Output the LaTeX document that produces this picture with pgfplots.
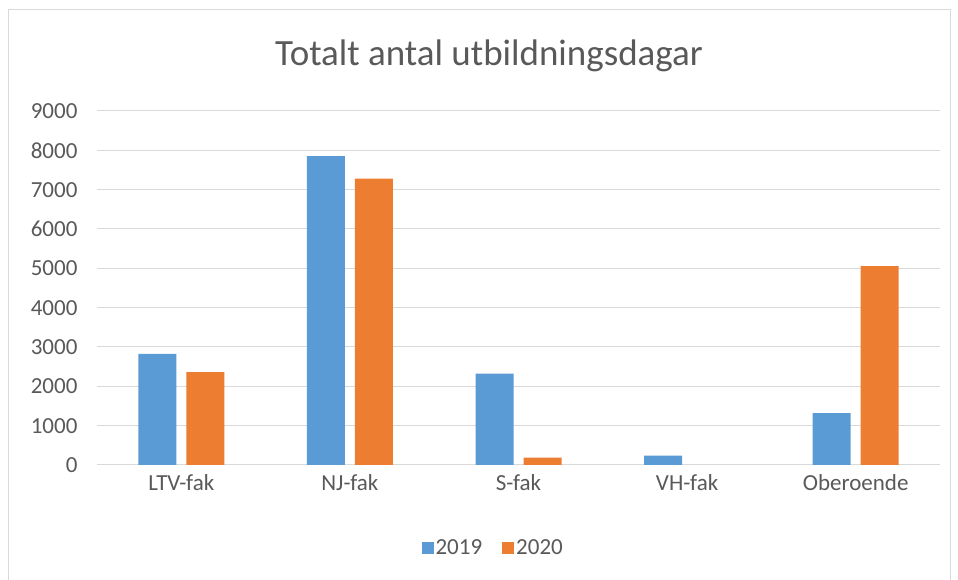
\documentclass[border=0pt]{standalone}
\usepackage{fontspec}
\setmainfont{Carlito}
\usepackage{pgfplots}
\pgfplotsset{compat=1.18}
\definecolor{blue19}{HTML}{5B9BD5}
\definecolor{orange20}{HTML}{ED7D31}
\definecolor{gridgray}{HTML}{D9D9D9}
\definecolor{textgray}{HTML}{595959}
\begin{document}
\begin{tikzpicture}[x=1pt,y=1pt]
\useasboundingbox (0,0) rectangle (958,580);
\draw[gridgray, line width=1pt] (8,-5) rectangle (950,570);
\node[text=textgray, font=\fontsize{37}{44}\selectfont] at (489,524) {Totalt antal utbildningsdagar};
\begin{axis}[
  at={(97pt,115pt)}, anchor=south west,
  scale only axis,
  width=843pt, height=354pt,
  ybar=10pt, bar width=38pt,
  xmin=-0.5, xmax=4.5,
  ymin=0, ymax=9000,
  ytick={0,1000,...,9000},
  xtick={0,1,2,3,4},
  xticklabels={LTV-fak,NJ-fak,S-fak,VH-fak,Oberoende},
  ymajorgrids, grid style={gridgray, line width=1pt},
  axis x line*=bottom, axis y line*=left,
  x axis line style={gridgray, line width=1pt},
  y axis line style={draw=none},
  major tick length=0pt,
  tick label style={text=textgray, font=\fontsize{23}{28}\selectfont},
  yticklabel style={xshift=-16pt},
  xticklabel style={yshift=-6pt},
  /pgf/number format/assume math mode=true,
  /pgf/number format/1000 sep={},
  legend style={at={(0.47,-0.2)}, anchor=north, draw=none, legend columns=2,
    font=\fontsize{23}{28}\selectfont, text=textgray,
    /tikz/every even column/.append style={column sep=18pt}},
  legend image code/.code={\fill[#1] (-4pt,-6pt) rectangle (8pt,6pt);},
]
\addplot[fill=blue19, draw=none] coordinates {(0,2825) (1,7850) (2,2320) (3,240) (4,1320)};
\addplot[fill=orange20, draw=none] coordinates {(0,2360) (1,7280) (2,190) (4,5055)};
\legend{2019,2020}
\end{axis}
\end{tikzpicture}
\end{document}
